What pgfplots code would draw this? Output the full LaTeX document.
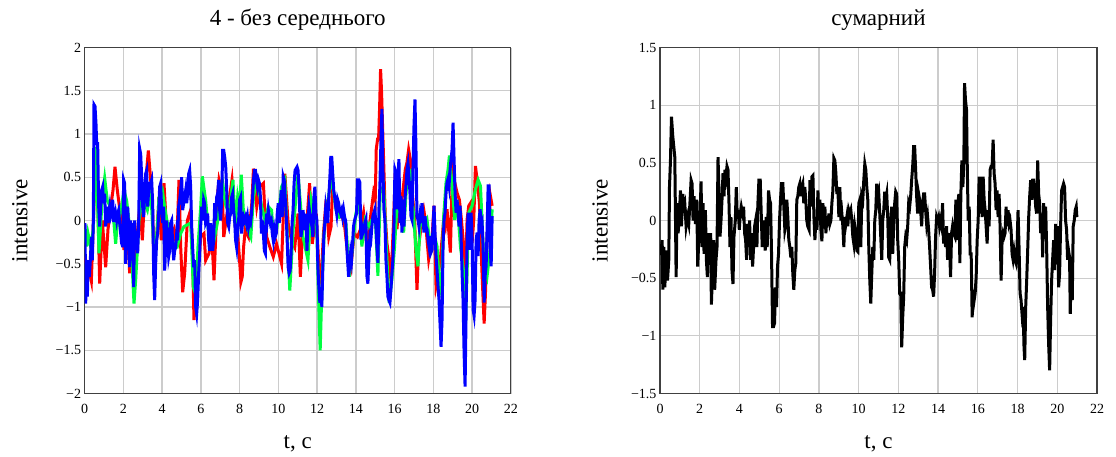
\documentclass[border=0pt]{standalone}
\usepackage{fontspec}
\setmainfont{Liberation Serif}
\usepackage{pgfplots}
\pgfplotsset{compat=1.18}
\definecolor{gridc}{RGB}{204,204,204}
\definecolor{mygreen}{RGB}{0,255,64}
\pgfplotsset{
  panel/.style={
    scale only axis,
    xmin=0, xmax=22,
    xtick={0,2,4,6,8,10,12,14,16,18,20,22},
    xticklabels={0,2,4,6,8,10,12,14,16,18,20,22},
    grid=major,
    major tick length=0pt,
    tick style={draw=none},
    axis line style={black!75, line width=1.2pt},
    grid style={gridc, line width=1.3pt},
    ticklabel style={font=\fontsize{14}{16}\selectfont},
    xticklabel style={yshift=-7pt},
    label style={font=\fontsize{23}{26}\selectfont},
    xlabel style={at={(axis description cs:0.5,-0.145)}, anchor=center},
    clip=true,
  }
}
\begin{document}
\begin{tikzpicture}
\useasboundingbox (0,0) rectangle (1116pt,456pt);
\node[font=\fontsize{23}{26}\selectfont, anchor=base] at (297.7pt,430pt) {4 - без середнього};
\node[font=\fontsize{23}{26}\selectfont, anchor=base] at (878.5pt,430pt) {сумарний};
% ---------------- left panel ----------------
\begin{axis}[panel,
  at={(84.6pt,62.5pt)}, anchor=south west,
  width=426.25pt, height=346pt,
  ymin=-2, ymax=2,
  ytick={-2,-1.5,-1,-0.5,0,0.5,1,1.5,2},
  yticklabels={−2,−1.5,−1,−0.5,0,0.5,1,1.5,2},
  xlabel={t, c},
  ylabel={intensive},
  ylabel style={at={(axis description cs:-0.152,0.5)}, anchor=center},
]
\addplot[red, line width=3pt] coordinates {
(0.02,-0.42)(0.141,-0.54)(0.262,-0.61)(0.348,-0.70)(0.485,0.20)(0.606,0.50)(0.692,0.10)(0.778,-0.73)
(0.915,0.00)(1.087,-0.54)(1.208,-0.10)(1.345,0.15)(1.466,0.35)(1.569,0.62)(1.689,0.35)(1.862,0.05)
(2.034,-0.34)(2.171,0.10)(2.326,-0.61)(2.464,-0.15)(2.550,-0.84)(2.722,-0.15)(2.859,0.20)(2.980,-0.23)
(3.100,0.30)(3.290,0.81)(3.410,0.47)(3.513,0.10)(3.582,-0.54)(3.719,-0.20)(3.840,0.27)(3.960,-0.23)
(4.098,0.43)(4.184,0.08)(4.304,-0.30)(4.442,-0.19)(4.614,-0.10)(4.752,-0.30)(4.872,0.47)(4.958,-0.30)
(5.061,-0.83)(5.165,-0.61)(5.303,0.00)(5.474,0.12)(5.560,-0.30)(5.646,-1.15)(5.732,-0.90)(5.818,-0.69)
(5.990,-0.19)(6.162,-0.15)(6.249,-0.46)(6.421,-0.38)(6.558,-0.15)(6.679,-0.69)(6.765,-0.20)(6.851,0.27)
(6.937,0.47)(7.109,0.31)(7.182,-0.19)(7.352,0.08)(7.608,0.47)(7.778,-0.07)(7.898,-0.15)(8.000,-0.46)
(8.068,-0.71)(8.136,-0.65)(8.205,-0.31)(8.290,-0.11)(8.460,-0.19)(8.631,0.20)(8.716,0.60)(8.886,0.16)
(9.057,0.39)(9.227,0.43)(9.312,0.08)(9.398,-0.19)(9.568,-0.31)(9.739,-0.42)(9.909,-0.27)(10.165,-0.50)
(10.335,0.54)(10.506,-0.03)(10.676,-0.23)(10.846,-0.31)(11.017,0.08)(11.136,-0.65)(11.273,-0.03)(11.443,-0.11)
(11.614,0.43)(11.750,-0.27)(11.954,0.08)(12.091,-0.54)(12.210,-0.69)(12.329,-0.15)(12.466,0.24)(12.602,-0.19)
(12.721,-0.07)(12.807,0.43)(12.892,0.24)(13.062,0.16)(13.233,0.08)(13.403,-0.03)(13.574,-0.38)(13.744,-0.54)
(13.915,-0.15)(14.085,-0.19)(14.224,-0.11)(14.397,0.09)(14.569,-0.30)(14.741,0.01)(14.914,0.32)(15.000,0.24)
(15.052,0.82)(15.121,0.94)(15.172,0.94)(15.224,1.29)(15.276,1.75)(15.328,1.48)(15.379,1.09)(15.448,0.59)
(15.517,0.05)(15.603,-0.26)(15.690,-0.41)(15.776,-0.61)(15.862,-0.45)(15.948,0.01)(16.034,0.55)(16.121,-0.10)
(16.207,0.13)(16.379,0.24)(16.552,0.59)(16.638,0.67)(16.724,0.82)(16.810,0.71)(16.897,0.36)(17.034,0.01)
(17.155,-0.80)(17.241,-0.30)(17.328,-0.14)(17.414,0.05)(17.500,0.13)(17.586,0.01)(17.672,-0.22)(17.759,-0.45)
(17.931,-0.22)(18.034,0.17)(18.138,-0.76)(18.241,-0.64)(18.362,-0.45)(18.534,0.01)(18.621,-0.07)(18.707,0.13)
(18.879,-0.37)(19.000,0.75)(19.103,0.44)(19.224,0.32)(19.345,0.24)(19.448,0.01)(19.569,-0.30)(19.655,-0.72)
(19.741,0.01)(19.828,0.17)(19.914,0.20)(20.000,-0.26)(20.086,0.01)(20.172,0.63)(20.259,0.47)(20.379,0.20)
(20.517,-0.64)(20.621,-1.19)(20.690,-0.84)(20.776,-0.14)(20.862,-0.07)(20.948,0.28)(21.034,0.17)
};
\addplot[mygreen, line width=3pt] coordinates {
(0.02,-0.10)(0.107,-0.30)(0.176,-0.15)(0.313,-0.30)(0.451,-0.10)(0.571,0.85)(0.657,0.30)(0.743,-0.38)
(0.915,0.27)(1.036,0.49)(1.173,0.23)(1.345,0.15)(1.483,0.05)(1.603,-0.27)(1.689,-0.03)(1.862,0.10)
(2.034,0.35)(2.171,0.23)(2.378,-0.19)(2.550,-0.96)(2.636,-0.69)(2.808,0.00)(2.980,0.27)(3.238,0.12)
(3.410,0.35)(3.616,-0.50)(3.754,-0.07)(3.840,0.27)(4.012,0.35)(4.184,0.08)(4.442,-0.23)(4.786,-0.30)
(4.958,-0.15)(5.130,-0.07)(5.474,-0.03)(5.612,-0.77)(5.732,-0.85)(5.853,-0.30)(5.990,0.15)(6.077,0.51)
(6.249,0.23)(6.421,-0.19)(6.679,-0.23)(6.851,-0.03)(7.109,0.47)(7.267,0.19)(7.438,0.08)(7.659,0.47)
(7.778,-0.07)(7.898,0.27)(8.000,0.12)(8.085,0.53)(8.205,0.08)(8.375,-0.07)(8.580,-0.19)(8.716,0.27)
(8.886,0.47)(9.142,0.16)(9.312,0.00)(9.483,0.16)(9.653,0.12)(9.739,-0.19)(9.909,-0.11)(10.165,0.39)
(10.335,0.47)(10.506,-0.42)(10.591,-0.81)(10.761,-0.11)(11.017,0.54)(11.273,-0.19)(11.528,-0.46)(11.699,0.24)
(11.869,0.08)(11.989,-0.15)(12.074,-0.88)(12.159,-1.50)(12.261,-0.69)(12.381,-0.07)(12.636,0.35)(12.772,0.47)
(12.977,0.12)(13.148,0.04)(13.318,0.08)(13.489,-0.03)(13.659,-0.65)(13.830,-0.31)(14.000,0.08)(14.172,0.24)
(14.310,-0.30)(14.483,0.01)(14.655,-0.07)(14.828,0.01)(15.000,0.05)(15.138,-0.64)(15.259,0.32)(15.431,0.40)
(15.603,-0.45)(15.724,-0.95)(15.862,-0.68)(16.000,-0.30)(16.121,0.17)(16.207,0.13)(16.293,0.20)(16.466,-0.14)
(16.638,0.47)(16.810,0.55)(16.983,0.05)(17.103,-0.34)(17.207,-0.53)(17.328,0.01)(17.500,-0.07)(17.672,0.01)
(17.845,-0.30)(18.017,-0.14)(18.190,-0.30)(18.310,-0.72)(18.414,-0.84)(18.534,0.05)(18.655,0.44)(18.759,0.59)
(18.828,0.75)(18.966,0.40)(19.103,0.01)(19.224,0.24)(19.397,-0.30)(19.569,-0.61)(19.655,-1.22)(19.741,-0.61)
(19.828,0.09)(20.000,0.17)(20.172,0.36)(20.310,0.47)(20.431,0.40)(20.603,-0.45)(20.776,-0.64)(20.948,-0.30)
(21.034,0.13)
};
\addplot[blue, line width=3pt] coordinates {
(0.02,-0.03)(0.055,-0.96)(0.107,-0.54)(0.141,-0.88)(0.193,-0.46)(0.244,-0.65)(0.296,-0.46)(0.348,-0.19)
(0.399,-0.46)(0.451,0.00)(0.485,1.34)(0.537,1.32)(0.588,1.12)(0.623,0.89)(0.674,0.89)(0.726,0.16)
(0.778,-0.07)(0.829,0.16)(0.881,0.35)(0.933,0.39)(0.984,0.20)(1.036,0.31)(1.087,-0.07)(1.139,0.16)
(1.191,-0.03)(1.242,0.08)(1.294,0.16)(1.345,0.04)(1.397,0.08)(1.449,0.24)(1.500,0.00)(1.552,0.00)
(1.603,0.08)(1.655,0.00)(1.707,0.08)(1.758,0.12)(1.810,-0.03)(1.862,-0.15)(1.913,-0.07)(1.965,-0.31)
(2.016,0.47)(2.068,0.43)(2.120,-0.50)(2.171,0.08)(2.223,0.16)(2.274,-0.07)(2.326,-0.54)(2.378,0.00)
(2.429,-0.31)(2.481,-0.03)(2.532,-0.77)(2.584,0.00)(2.636,-0.31)(2.687,-0.15)(2.739,-0.38)(2.790,-0.07)
(2.842,0.83)(2.894,0.77)(2.945,0.51)(2.997,0.16)(3.048,0.04)(3.100,0.31)(3.152,0.54)(3.203,0.58)
(3.255,0.16)(3.306,0.35)(3.358,0.43)(3.410,0.43)(3.461,0.47)(3.513,0.20)(3.565,-0.61)(3.616,-0.92)
(3.668,-0.50)(3.719,-0.23)(3.771,-0.15)(3.823,0.08)(3.874,0.39)(3.926,0.43)(3.977,0.12)(4.029,-0.03)
(4.081,0.16)(4.132,-0.58)(4.184,-0.31)(4.235,0.00)(4.287,-0.23)(4.339,-0.42)(4.390,-0.35)(4.442,-0.03)
(4.494,0.00)(4.545,-0.27)(4.597,-0.46)(4.648,-0.35)(4.700,-0.31)(4.752,-0.15)(4.803,-0.23)(4.855,0.16)
(4.906,0.24)(4.958,0.35)(5.010,0.50)(5.061,0.12)(5.113,0.20)(5.165,0.27)(5.216,0.35)(5.268,0.20)
(5.319,0.31)(5.371,0.54)(5.423,0.58)(5.474,0.39)(5.526,-0.07)(5.577,-0.31)(5.629,-0.54)(5.681,-0.46)
(5.732,-1.00)(5.784,-1.08)(5.835,-0.92)(5.887,-0.61)(5.939,-0.38)(5.990,-0.07)(6.042,0.16)(6.093,0.00)
(6.145,0.24)(6.197,0.20)(6.248,-0.03)(6.300,0.00)(6.351,0.08)(6.403,-0.23)(6.455,-0.35)(6.506,-0.03)
(6.558,-0.23)(6.610,-0.35)(6.661,-0.23)(6.713,0.20)(6.764,0.00)(6.816,0.27)(6.868,0.31)(6.919,0.47)
(6.971,0.12)(7.022,0.00)(7.074,0.24)(7.126,0.81)(7.182,0.81)(7.233,0.73)(7.284,0.62)(7.335,0.35)
(7.386,-0.03)(7.438,-0.07)(7.489,0.04)(7.540,0.08)(7.591,0.27)(7.642,0.31)(7.693,0.12)(7.744,0.00)
(7.795,-0.23)(7.847,-0.31)(7.898,-0.11)(7.949,0.00)(8.000,0.24)(8.051,0.27)(8.102,-0.15)(8.153,-0.03)
(8.205,0.04)(8.256,0.00)(8.307,0.04)(8.358,-0.03)(8.409,0.04)(8.460,-0.07)(8.511,0.00)(8.562,-0.03)
(8.614,0.08)(8.665,0.24)(8.716,0.47)(8.767,0.58)(8.818,0.58)(8.869,0.47)(8.920,0.39)(8.972,0.47)
(9.023,0.43)(9.074,0.27)(9.125,-0.15)(9.176,0.00)(9.227,-0.15)(9.278,-0.35)(9.330,-0.38)(9.381,0.08)
(9.432,0.00)(9.483,0.12)(9.534,0.04)(9.585,-0.03)(9.636,0.00)(9.687,-0.15)(9.739,-0.23)(9.790,-0.11)
(9.841,-0.19)(9.892,-0.15)(9.943,0.08)(9.994,0.20)(10.045,-0.03)(10.097,0.16)(10.148,0.35)(10.199,0.04)
(10.250,0.51)(10.301,0.47)(10.352,0.27)(10.403,0.08)(10.455,-0.23)(10.506,-0.54)(10.557,-0.61)(10.608,-0.58)
(10.659,-0.38)(10.710,-0.03)(10.761,0.12)(10.812,0.43)(10.864,0.58)(10.915,0.60)(10.966,0.62)(11.017,0.58)
(11.068,0.35)(11.119,0.00)(11.170,-0.19)(11.222,-0.07)(11.273,0.12)(11.324,0.00)(11.375,-0.11)(11.426,0.08)
(11.477,-0.35)(11.528,0.00)(11.580,0.16)(11.631,0.08)(11.682,0.00)(11.733,-0.07)(11.784,-0.19)(11.835,0.27)
(11.886,0.39)(11.938,0.08)(11.989,0.00)(12.040,-0.54)(12.091,-0.77)(12.142,-0.95)(12.193,-0.77)(12.244,-1.00)
(12.296,-0.54)(12.347,-0.19)(12.398,-0.03)(12.449,0.16)(12.500,0.08)(12.551,-0.03)(12.602,0.27)(12.653,0.47)
(12.705,0.73)(12.756,0.73)(12.807,0.54)(12.858,0.35)(12.909,0.27)(12.960,0.16)(13.011,0.08)(13.062,0.24)
(13.114,0.20)(13.165,0.12)(13.216,0.08)(13.267,0.12)(13.318,0.04)(13.369,0.12)(13.420,0.04)(13.472,0.00)
(13.523,-0.27)(13.574,-0.46)(13.625,-0.65)(13.676,-0.54)(13.727,-0.38)(13.778,-0.46)(13.830,-0.27)(13.881,-0.07)
(13.932,0.00)(13.983,0.04)(14.034,0.08)(14.085,0.47)(14.155,0.47)(14.207,0.44)(14.259,-0.22)(14.310,-0.07)
(14.362,-0.14)(14.414,-0.10)(14.466,-0.03)(14.517,0.01)(14.569,-0.64)(14.621,-0.73)(14.672,-0.45)(14.724,-0.18)
(14.776,-0.22)(14.828,-0.07)(14.879,0.05)(14.931,0.09)(14.983,0.13)(15.034,-0.07)(15.086,-0.30)(15.138,-0.49)
(15.190,0.13)(15.241,0.40)(15.293,0.90)(15.345,1.29)(15.397,0.59)(15.448,0.13)(15.500,0.01)(15.552,-0.45)
(15.603,-0.64)(15.655,-0.88)(15.707,-0.92)(15.759,-0.95)(15.810,-0.80)(15.862,-0.61)(15.914,-0.45)(15.966,-0.07)
(16.017,0.59)(16.069,0.55)(16.121,0.13)(16.172,0.51)(16.224,0.71)(16.276,-0.03)(16.328,0.28)(16.379,-0.14)
(16.431,0.24)(16.483,-0.07)(16.534,0.24)(16.586,0.40)(16.638,0.59)(16.690,0.66)(16.741,0.51)(16.793,0.32)
(16.845,0.05)(16.897,0.01)(16.948,0.59)(17.000,1.09)(17.052,1.40)(17.103,0.82)(17.155,0.05)(17.207,0.01)
(17.259,-0.07)(17.310,0.05)(17.362,-0.03)(17.414,0.20)(17.466,0.01)(17.517,-0.14)(17.569,0.05)(17.621,-0.07)
(17.672,-0.10)(17.724,-0.22)(17.776,-0.30)(17.828,-0.18)(17.879,-0.37)(17.931,-0.34)(17.983,-0.07)(18.034,0.17)
(18.086,-0.14)(18.138,-0.41)(18.190,-0.57)(18.241,-0.76)(18.293,-0.92)(18.345,-1.19)(18.397,-1.46)(18.448,-1.15)
(18.500,-0.30)(18.552,0.01)(18.603,0.09)(18.655,0.32)(18.707,0.44)(18.759,0.48)(18.810,0.40)(18.862,0.59)
(18.914,0.71)(18.966,0.82)(19.017,1.13)(19.069,0.71)(19.121,0.32)(19.172,0.09)(19.224,0.24)(19.276,0.09)
(19.328,-0.07)(19.379,0.17)(19.431,-0.18)(19.483,-0.61)(19.534,-0.92)(19.586,-1.53)(19.638,-1.92)(19.690,-1.07)
(19.741,-0.22)(19.793,0.09)(19.845,-0.07)(19.897,-0.34)(19.948,0.09)(20.000,-0.22)(20.052,-1.03)(20.103,-1.10)
(20.155,-0.92)(20.207,-0.22)(20.259,-0.14)(20.310,-0.41)(20.362,0.01)(20.414,0.13)(20.466,-0.07)(20.517,-0.03)
(20.569,-0.30)(20.621,-0.95)(20.672,-0.64)(20.724,-0.53)(20.776,-0.07)(20.828,0.40)(20.879,0.40)(20.931,-0.30)
(20.983,-0.53)(21.034,0.05)
};
\end{axis}
% ---------------- right panel ----------------
\begin{axis}[panel,
  at={(660pt,62.5pt)}, anchor=south west,
  width=437pt, height=346pt,
  ymin=-1.5, ymax=1.5,
  ytick={-1.5,-1,-0.5,0,0.5,1,1.5},
  yticklabels={−1.5,−1,−0.5,0,0.5,1,1.5},
  xlabel={t, c},
  ylabel={intensive},
  ylabel style={at={(axis description cs:-0.137,0.5)}, anchor=center},
]
\addplot[black, line width=3pt] coordinates {
(0.03,-0.30)(0.109,-0.17)(0.142,-0.60)(0.192,-0.23)(0.243,-0.58)(0.310,-0.26)(0.377,-0.52)(0.443,-0.34)
(0.477,0.29)(0.527,0.52)(0.577,0.90)(0.644,0.73)(0.694,0.64)(0.745,0.55)(0.812,-0.49)(0.862,0.15)
(0.912,-0.11)(0.979,0.06)(1.029,0.26)(1.079,-0.05)(1.146,0.23)(1.197,0.12)(1.247,0.15)(1.314,-0.05)
(1.381,0.03)(1.448,-0.03)(1.515,0.18)(1.565,0.35)(1.615,0.32)(1.665,0.00)(1.715,0.21)(1.782,-0.03)
(1.849,0.18)(1.900,-0.40)(1.950,-0.17)(2.017,0.03)(2.067,0.34)(2.117,-0.23)(2.167,0.15)(2.218,-0.29)
(2.285,0.09)(2.335,-0.34)(2.385,-0.49)(2.452,-0.11)(2.502,-0.34)(2.552,-0.11)(2.586,-0.73)(2.653,-0.40)
(2.703,-0.17)(2.753,-0.60)(2.820,-0.34)(2.870,-0.23)(2.921,0.55)(2.971,0.23)(3.021,-0.14)(3.071,0.00)
(3.121,0.18)(3.172,0.41)(3.222,0.21)(3.272,0.44)(3.322,0.38)(3.372,0.47)(3.423,0.44)(3.473,0.15)
(3.523,-0.23)(3.573,0.03)(3.623,-0.43)(3.674,-0.55)(3.724,-0.14)(3.791,0.00)(3.841,0.29)(3.891,0.03)
(3.941,0.09)(3.992,-0.08)(4.042,0.06)(4.092,0.12)(4.159,0.06)(4.209,0.12)(4.259,-0.11)(4.310,-0.17)
(4.360,-0.34)(4.410,-0.03)(4.460,-0.23)(4.510,0.00)(4.561,-0.34)(4.611,-0.11)(4.661,-0.40)(4.711,-0.23)
(4.762,-0.05)(4.812,0.00)(4.879,-0.23)(4.929,0.15)(4.979,0.35)(5.046,0.35)(5.096,0.06)(5.146,-0.23)
(5.197,0.00)(5.247,-0.11)(5.297,-0.26)(5.347,0.03)(5.397,-0.23)(5.464,0.26)(5.515,0.18)(5.565,0.15)
(5.615,-0.29)(5.665,-0.92)(5.715,-0.92)(5.766,-0.89)(5.816,-0.58)(5.866,-0.75)(5.916,-0.40)(5.967,-0.29)
(6.017,0.00)(6.067,0.18)(6.117,0.32)(6.184,0.32)(6.234,0.12)(6.285,-0.08)(6.335,-0.03)(6.385,0.18)
(6.435,0.03)(6.485,-0.17)(6.536,-0.23)(6.586,-0.32)(6.636,-0.23)(6.686,-0.46)(6.736,-0.60)(6.787,-0.43)
(6.837,-0.37)(6.887,0.18)(6.937,0.21)(6.987,0.29)(7.038,0.32)(7.088,0.21)(7.138,0.29)(7.188,0.32)
(7.238,0.15)(7.289,0.29)(7.339,0.18)(7.389,0.00)(7.439,-0.05)(7.506,-0.08)(7.548,0.35)(7.598,0.12)
(7.649,0.38)(7.699,0.39)(7.749,0.03)(7.799,-0.17)(7.849,0.03)(7.900,-0.08)(7.950,0.26)(8.000,0.00)
(8.050,0.18)(8.100,-0.08)(8.151,-0.18)(8.201,0.15)(8.251,-0.05)(8.301,0.12)(8.351,-0.11)(8.402,0.03)
(8.452,-0.05)(8.502,0.06)(8.552,-0.03)(8.603,0.00)(8.653,0.15)(8.703,0.26)(8.753,0.54)(8.803,0.52)
(8.854,0.41)(8.904,0.23)(8.954,0.29)(9.004,0.03)(9.054,0.29)(9.105,0.00)(9.155,0.06)(9.205,-0.05)
(9.255,-0.23)(9.305,0.03)(9.356,-0.03)(9.406,0.03)(9.456,-0.05)(9.506,0.09)(9.556,0.06)(9.607,0.09)
(9.657,0.00)(9.707,-0.14)(9.757,-0.20)(9.808,-0.05)(9.858,-0.11)(9.908,-0.26)(9.958,-0.27)(10.008,0.15)
(10.059,0.18)(10.109,-0.23)(10.159,0.21)(10.209,0.18)(10.259,0.35)(10.310,0.49)(10.360,0.44)(10.410,0.29)
(10.460,0.18)(10.510,-0.23)(10.561,-0.52)(10.611,-0.72)(10.661,-0.46)(10.711,-0.23)(10.762,-0.34)(10.812,0.00)
(10.862,0.09)(10.912,0.32)(10.962,0.18)(11.013,0.23)(11.063,0.06)(11.113,-0.14)(11.163,-0.34)(11.213,0.00)
(11.264,0.09)(11.314,0.25)(11.364,0.18)(11.414,0.23)(11.464,0.03)(11.515,-0.32)(11.565,-0.34)(11.615,0.00)
(11.665,0.12)(11.715,-0.29)(11.766,-0.03)(11.816,0.15)(11.866,0.25)(11.916,0.23)(11.967,-0.17)(12.017,-0.34)
(12.067,-0.63)(12.117,-0.63)(12.167,-1.10)(12.218,-0.84)(12.268,-0.66)(12.318,-0.23)(12.368,-0.14)(12.418,-0.17)
(12.469,-0.05)(12.519,0.15)(12.569,0.12)(12.619,0.21)(12.669,0.35)(12.720,0.47)(12.770,0.64)(12.820,0.64)
(12.870,0.44)(12.920,0.21)(12.971,0.06)(13.021,0.23)(13.071,0.18)(13.121,0.09)(13.172,-0.05)(13.222,0.15)
(13.272,0.23)(13.322,0.23)(13.372,0.09)(13.423,-0.03)(13.473,0.03)(13.523,-0.08)(13.573,-0.23)(13.623,-0.40)
(13.674,-0.58)(13.724,-0.60)(13.774,-0.66)(13.824,-0.46)(13.874,-0.14)(13.925,0.03)(13.975,0.00)(14.025,0.03)
(14.075,-0.05)(14.126,0.00)(14.176,-0.05)(14.226,0.15)(14.276,-0.20)(14.326,-0.11)(14.377,-0.23)(14.427,-0.05)
(14.477,-0.34)(14.527,-0.11)(14.577,-0.23)(14.628,-0.49)(14.678,-0.11)(14.728,-0.05)(14.778,-0.11)(14.845,-0.14)
(14.895,0.18)(14.946,-0.17)(14.996,0.15)(15.046,0.23)(15.096,-0.37)(15.146,0.23)(15.197,0.52)(15.247,0.29)
(15.297,0.52)(15.331,1.19)(15.381,1.04)(15.431,0.96)(15.464,0.52)(15.515,0.00)(15.565,0.12)(15.615,-0.29)
(15.665,-0.29)(15.715,-0.84)(15.766,-0.60)(15.816,-0.69)(15.866,-0.63)(15.916,-0.49)(15.967,-0.17)(16.017,0.00)
(16.067,0.38)(16.117,0.06)(16.167,0.38)(16.218,0.03)(16.268,0.38)(16.318,0.18)(16.368,0.09)(16.418,-0.05)
(16.469,-0.20)(16.519,0.09)(16.569,-0.05)(16.619,0.44)(16.669,0.47)(16.720,0.47)(16.770,0.70)(16.820,0.41)
(16.870,0.32)(16.920,0.09)(16.971,0.26)(17.021,0.03)(17.071,0.23)(17.121,-0.05)(17.172,-0.52)(17.222,-0.17)
(17.272,-0.11)(17.322,-0.14)(17.372,-0.11)(17.423,0.12)(17.473,-0.05)(17.523,0.09)(17.573,-0.03)(17.623,0.00)
(17.674,-0.08)(17.724,-0.29)(17.774,-0.34)(17.824,-0.27)(17.874,-0.34)(17.925,-0.37)(17.975,-0.23)(18.025,0.09)
(18.075,-0.23)(18.126,-0.63)(18.176,-0.69)(18.226,-0.81)(18.276,-0.75)(18.326,-1.10)(18.360,-1.21)(18.410,-0.75)
(18.460,-0.52)(18.510,-0.26)(18.561,0.03)(18.611,0.21)(18.661,0.35)(18.711,0.18)(18.762,0.35)(18.812,0.35)
(18.862,0.26)(18.912,0.12)(18.962,0.06)(19.013,0.52)(19.063,0.23)(19.113,0.15)(19.163,-0.11)(19.213,0.06)
(19.264,-0.32)(19.314,0.15)(19.364,-0.11)(19.414,0.12)(19.464,-0.23)(19.515,-0.75)(19.565,-1.07)(19.615,-1.30)
(19.665,-0.86)(19.715,-0.52)(19.766,-0.34)(19.816,-0.17)(19.866,-0.43)(19.916,-0.03)(19.967,-0.29)(20.017,-0.05)
(20.067,-0.58)(20.117,-0.46)(20.167,-0.05)(20.218,0.26)(20.268,0.29)(20.318,0.32)(20.368,0.29)(20.418,0.00)
(20.469,-0.08)(20.519,-0.34)(20.569,-0.26)(20.619,-0.32)(20.653,-0.81)(20.703,-0.40)(20.753,-0.69)(20.803,-0.05)
(20.853,0.00)(20.904,0.09)(20.954,0.12)(20.987,0.03)
};
\end{axis}
\end{tikzpicture}
\end{document}
